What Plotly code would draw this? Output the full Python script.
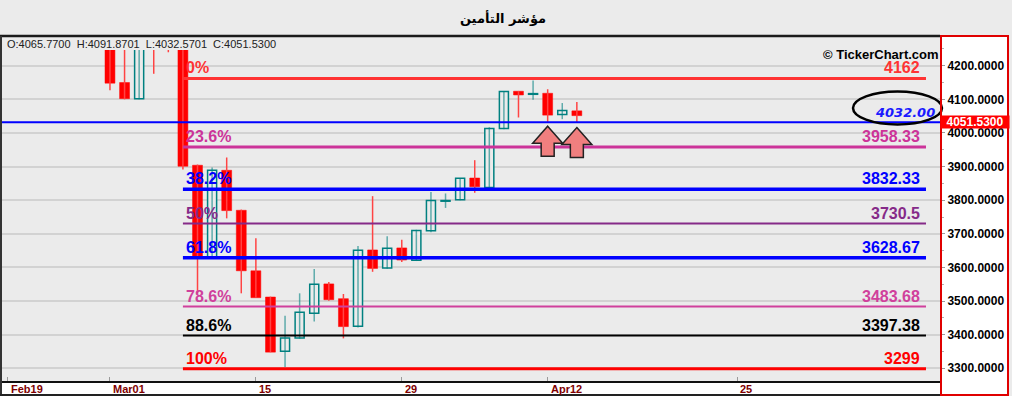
import plotly.graph_objects as go

# ---------------- data ----------------
title_text = "مؤشر التأمين"
ohlc_text = "O:4065.7700  H:4091.8701  L:4032.5701  C:4051.5300"

dates = ["Mar01", "Mar02", "Mar03", "Mar04", "Mar07", "Mar08", "Mar09", "Mar10", "Mar11",
         "Mar14", "Mar15", "Mar16", "Mar17", "Mar18", "Mar21", "Mar22", "Mar23", "Mar24",
         "Mar25", "Mar28", "Mar29", "Mar30", "Mar31", "Apr01", "Apr04", "Apr05", "Apr06",
         "Apr07", "Apr08", "Apr11", "Apr12", "Apr13", "Apr14"]
opens = [4270, 4150, 4102, 4272, 4276, 4265, 3904, 3630, 3889, 3770, 3590, 3512, 3351,
         3390, 3464, 3551, 3507, 3425, 3652, 3598, 3658, 3621, 3709, 3797, 3801, 3866,
         3838, 4013, 4124, 4115, 4118, 4055, 4065.77]
highs = [4280, 4270, 4275, 4285, 4285, 4270, 3906, 3897, 3927, 3772, 3687, 3513, 3456,
         3523, 3595, 3557, 3521, 3664, 3812, 3693, 3682, 3712, 3824, 3820, 3866, 3919,
         4017, 4125, 4125, 4156, 4130, 4089, 4091.87]
lows = [4127, 4100, 4100, 4176, 4240, 3891, 3523, 3628, 3746, 3523, 3510, 3348, 3304,
        3388, 3439, 3501, 3389, 3421, 3587, 3596, 3616, 3619, 3705, 3777, 3800, 3822,
        3836, 4011, 4046, 4099, 4033, 4041, 4032.57]
closes = [4148, 4102, 4265, 4262, 4268, 3901, 3630, 3889, 3769, 3590, 3510, 3348, 3390,
          3467, 3550, 3504, 3424, 3651, 3597, 3657, 3622, 3710, 3799, 3799, 3865, 3840,
          4013, 4123, 4113, 4117, 4053, 4067, 4051.53]

tick_slots = [-7, 0, 10, 20, 30, 43]
tick_labels = ["Feb19", "Mar01", "15", "29", "Apr12", "25"]

fib_pcts = ["0%", "23.6%", "38.2%", "50%", "61.8%", "78.6%", "88.6%", "100%"]
fib_values = [4162, 3958.33, 3832.33, 3730.5, 3628.67, 3483.68, 3397.38, 3299]
fib_value_text = ["4162", "3958.33", "3832.33", "3730.5", "3628.67", "3483.68", "3397.38", "3299"]
fib_colors = ["#ff3333", "#cc3399", "#0000ff", "#852a88", "#0000ff", "#d0409c", "#000000", "#ff0000"]
fib_widths = [3, 3, 3.5, 2, 3.5, 2, 2, 3]

support_value = 4032.00
last_close_text = "4051.5300"
arrow_slots = [30, 32]
arrow_tips = [4020, 4016]

# ---------------- layout constants ----------------
W, H = 1012, 396
ML, MR, MT, MB = 2, 72, 37, 15
PW, PH = W - ML - MR, H - MT - MB
x_range = [-7.40, 56.89]
y_range = [3262.2, 4285.4]
fib_start, fib_end = 5, 55.93
BG = "#ebebeb"
RED = "#ff0000"
TEAL = "#008080"


def px_x(p):
    return (p - ML) / PW


def px_y(p):
    return (H - MB - p) / PH


x = list(range(len(dates)))
up = [c >= o for o, c in zip(opens, closes)]

fig = go.Figure()

# wicks
for is_up, col in [(True, "rgba(0,128,128,0.6)"), (False, "#ff4444")]:
    wx, wy = [], []
    for i in x:
        if up[i] == is_up:
            wx += [i, i, None]
            wy += [lows[i], highs[i], None]
    fig.add_trace(go.Scatter(x=wx, y=wy, mode="lines", line=dict(color=col, width=1.5),
                             hoverinfo="skip", showlegend=False))


def body(is_up):
    xs, bases, hs = [], [], []
    for i in x:
        if up[i] == is_up:
            lo, hi = min(opens[i], closes[i]), max(opens[i], closes[i])
            xs.append(i)
            bases.append(lo)
            hs.append(max(hi - lo, 2))
    return xs, bases, hs


xs, bs, hs = body(True)
fig.add_trace(go.Bar(x=xs, y=hs, base=bs, width=0.62,
                     marker=dict(color=BG, line=dict(color=TEAL, width=1.5)),
                     showlegend=False, hoverinfo="skip"))
xs, bs, hs = body(False)
fig.add_trace(go.Bar(x=xs, y=hs, base=bs, width=0.68,
                     marker=dict(color=RED, line=dict(color=RED, width=0.5)),
                     showlegend=False, hoverinfo="skip"))

shapes = []
annotations = []

# white right axis panel and bottom strip
shapes.append(dict(type="rect", xref="paper", yref="paper", layer="below",
                   x0=1.0, x1=px_x(1009), y0=px_y(396), y1=px_y(35),
                   fillcolor="white", line=dict(width=0)))
shapes.append(dict(type="rect", xref="paper", yref="paper", layer="below",
                   x0=px_x(0), x1=1.0, y0=px_y(396), y1=0,
                   fillcolor="white", line=dict(width=0)))

# fib lines + labels
for p, v, t, c, w in zip(fib_pcts, fib_values, fib_value_text, fib_colors, fib_widths):
    shapes.append(dict(type="line", xref="x", yref="y", x0=fib_start, x1=fib_end, y0=v, y1=v,
                       line=dict(color=c, width=w), layer="above"))
    annotations.append(dict(x=fib_start, y=v, xref="x", yref="y", text=p, showarrow=False,
                            xanchor="left", yanchor="bottom", xshift=1, yshift=0,
                            font=dict(family="Liberation Sans, Arial", size=16, color=c, weight="bold")))
    annotations.append(dict(x=fib_end, y=v, xref="x", yref="y", text=t, showarrow=False,
                            xanchor="right", yanchor="bottom", xshift=-4, yshift=0,
                            font=dict(family="Liberation Sans, Arial", size=16, color=c, weight="bold")))

# support line
shapes.append(dict(type="line", xref="paper", yref="y", x0=0, x1=1, y0=support_value, y1=support_value,
                   line=dict(color="#0000ff", width=2), layer="above"))
annotations.append(dict(x=px_x(937), y=px_y(112.5), xref="paper", yref="paper", text="<i>4032.00</i>",
                        showarrow=False, xanchor="right", yanchor="middle",
                        font=dict(family="DejaVu Sans", size=13, color="#1a1aff", weight="bold")))
# hand-drawn ellipse
shapes.append(dict(type="circle", xref="paper", yref="paper", layer="above",
                   x0=px_x(853), x1=px_x(942), y0=px_y(124.5), y1=px_y(91.5),
                   line=dict(color="black", width=2.5)))

# arrows
arrow_path = "M0,0 L15,-17 L6.5,-17 L6.5,-30 L-6.5,-30 L-6.5,-17 L-15,-17 Z"
for s, tip in zip(arrow_slots, arrow_tips):
    shapes.append(dict(type="path", xref="x", yref="y", xsizemode="pixel", ysizemode="pixel",
                       xanchor=s, yanchor=tip, path=arrow_path, layer="above",
                       fillcolor="#f07f7f", line=dict(color="#222222", width=1.5)))

# top cover strip for OHLC readout
shapes.append(dict(type="rect", xref="paper", yref="paper", layer="above",
                   x0=0, x1=1, y0=px_y(50), y1=1.0,
                   fillcolor=BG, line=dict(width=0)))

# frame lines
shapes.append(dict(type="line", xref="paper", yref="paper", x0=px_x(0), x1=1.0, y0=px_y(36), y1=px_y(36),
                   line=dict(color="#1a1a1a", width=2.5), layer="above"))
shapes.append(dict(type="line", xref="paper", yref="paper", x0=px_x(1), x1=px_x(1), y0=px_y(395), y1=px_y(36),
                   line=dict(color="#333333", width=2), layer="above"))
shapes.append(dict(type="line", xref="paper", yref="paper", x0=px_x(0), x1=1.0, y0=px_y(395), y1=px_y(395),
                   line=dict(color="#222222", width=2), layer="above"))
# red panel border
shapes.append(dict(type="rect", xref="paper", yref="paper", layer="above",
                   x0=px_x(941), x1=px_x(1008), y0=px_y(395), y1=px_y(36),
                   fillcolor="rgba(0,0,0,0)", line=dict(color="#e00000", width=2)))

# x tick labels (placed to the right of each tick mark)
for s, lab in zip(tick_slots, tick_labels):
    annotations.append(dict(x=s, y=px_y(388.5), xref="x", yref="paper", text=lab, showarrow=False,
                            xanchor="left", yanchor="middle", xshift=1,
                            font=dict(family="Liberation Sans, Arial", size=11, color="#800000",
                                      weight="bold")))

# texts
annotations.append(dict(x=px_x(5), y=px_y(43.5), xref="paper", yref="paper", text=ohlc_text, showarrow=False,
                        xanchor="left", yanchor="middle",
                        font=dict(family="Liberation Sans, Arial", size=11, color="#222222")))
annotations.append(dict(x=px_x(941), y=px_y(55), xref="paper", yref="paper",
                        text="© TickerChart.com", showarrow=False, xanchor="right", yanchor="middle",
                        font=dict(family="Liberation Sans, Arial", size=13, color="black", weight="bold")))
annotations.append(dict(x=px_x(940), y=px_y(122), xref="paper", yref="paper", text=last_close_text,
                        showarrow=False, xanchor="left", yanchor="middle",
                        width=68, height=12, bgcolor="#ff0000", borderpad=0,
                        font=dict(family="Liberation Sans, Arial", size=12, color="white", weight="bold")))

fig.update_layout(
    width=W, height=H,
    margin=dict(l=ML, r=MR, t=MT, b=MB, autoexpand=False),
    paper_bgcolor=BG, plot_bgcolor=BG,
    barmode="overlay", bargap=0,
    showlegend=False,
    title=dict(text=title_text, x=503 / W, xref="container", xanchor="center",
               y=1 - 18 / H, yref="container", yanchor="middle", automargin=False,
               font=dict(family="DejaVu Sans", size=13, color="black", weight="bold")),
    xaxis=dict(range=x_range, tickvals=tick_slots, showticklabels=False, automargin=False,
               ticks="inside", ticklen=4, tickcolor="#9a9a9a", tickwidth=1,
               showgrid=False, zeroline=False, showline=True, linecolor="#111111", linewidth=1.5),
    yaxis=dict(range=y_range, side="right", dtick=100, tick0=3300, tickformat=".4f", automargin=False,
               showgrid=True, gridcolor="#d2d2d2", gridwidth=2, zeroline=False,
               ticks="outside", ticklen=4, tickcolor="#9a9a9a",
               minor=dict(dtick=50, ticks="outside", ticklen=3, tickcolor="#b0b0b0", showgrid=False),
               tickfont=dict(family="Liberation Sans, Arial", size=12, color="black", weight="bold"),
               showline=False),
    shapes=shapes,
    annotations=annotations,
)

fig.write_html("out.html", config={"displayModeBar": False, "staticPlot": True},
               post_script="document.body.style.margin='0';document.body.style.overflow='hidden';")
